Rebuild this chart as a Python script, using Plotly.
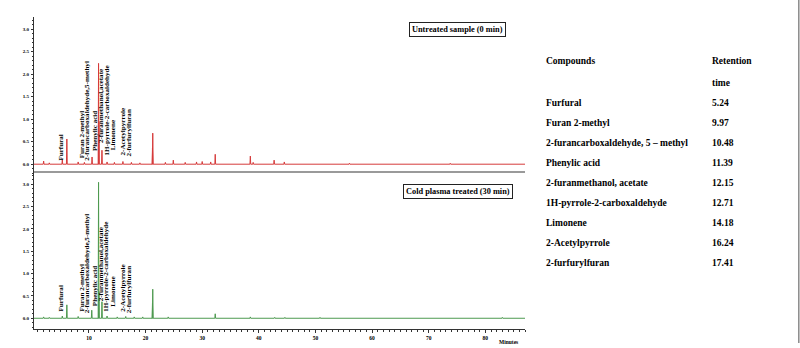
import plotly.graph_objects as go

W, H = 800, 348

# ---------------- data ----------------
compounds = ["Furfural", "Furan 2-methyl", "2-furancarboxaldehyde, 5 \u2013 methyl",
             "Phenylic acid", "2-furanmethanol, acetate", "1H-pyrrole-2-carboxaldehyde",
             "Limonene", "2-Acetylpyrrole", "2-furfurylfuran"]
retention_times = ["5.24", "9.97", "10.48", "11.39", "12.15", "12.71", "14.18", "16.24", "17.41"]

peak_labels = ["Furfural", "Furan 2-methyl", "2-furancarboxaldehyde,5-methyl", "Phenylic acid",
               "2-furanmethanol,acetate", "1H-pyrrole-2-carboxaldehyde", "Limonene",
               "2-Acetylpyrrole", "2-furfurylfuran"]

# untreated (0 min) chromatogram peaks: retention time (min), response
untreated_times = [2.0, 3.0, 5.3, 6.1, 8.1, 9.2, 10.55, 11.7, 11.76, 12.3, 13.2, 14.5, 16.0,
                   17.5, 19.0, 21.22, 21.27, 23.5, 24.9, 27.0, 29.0, 30.0, 31.5, 32.3, 38.5,
                   39.0, 42.7, 44.5, 56.0, 73.8]
untreated_values = [0.07, 0.03, 0.10, 0.56, 0.05, 0.04, 0.16, 2.24, 0.95, 0.31, 0.05, 0.04,
                    0.06, 0.04, 0.03, 0.36, 0.69, 0.04, 0.09, 0.04, 0.05, 0.06, 0.05, 0.22,
                    0.18, 0.04, 0.09, 0.05, 0.02, 0.02]

# cold plasma treated (30 min) chromatogram peaks
treated_times = [2.0, 3.0, 5.3, 6.1, 8.1, 10.5, 11.7, 11.76, 12.3, 13.2, 15.0, 16.5, 18.0,
                 19.5, 21.22, 21.27, 24.0, 32.3, 38.5, 42.8, 44.6, 50.8, 83.0]
treated_values = [0.03, 0.02, 0.05, 0.30, 0.04, 0.18, 3.04, 0.60, 0.37, 0.05, 0.03, 0.04,
                  0.03, 0.03, 0.33, 0.65, 0.03, 0.10, 0.03, 0.02, 0.02, 0.02, 0.02]

y_ticks = [0.0, 0.5, 1.0, 1.5, 2.0, 2.5, 3.0]
x_ticks = [10, 20, 30, 40, 50, 60, 70, 80]

# label placement (x in minutes, bottom of text in response units) - layout only
label_x = [5.1, 8.8, 9.7, 11.2, 12.1, 13.1, 14.3, 16.1, 17.0]
label_bottom_top = [0.04, 0.09, 0.04, 0.24, 0.42, 0.16, 0.27, 0.16, 0.13]
label_bottom_bot = [0.11, 0.11, 0.07, 0.22, 0.33, 0.11, 0.22, 0.11, 0.07]

T_START, T_END = 0.3, 87.0
HALF_W = 0.07


def spikes(times, values):
    xs, ys = [T_START], [0.0]
    for t, v in sorted(zip(times, values)):
        xs += [t - HALF_W, t, t + HALF_W]
        ys += [0.0, v, 0.0]
    xs.append(T_END)
    ys.append(0.0)
    return xs, ys


def px_x(p):
    return p / W


def px_y(p):
    return 1 - p / H


fig = go.Figure()
ux, uy = spikes(untreated_times, untreated_values)
tx, ty = spikes(treated_times, treated_values)
fig.add_trace(go.Scatter(x=ux, y=uy, mode="lines", line=dict(color="#d63a3a", width=1),
                         xaxis="x", yaxis="y", showlegend=False, hoverinfo="skip"))
fig.add_trace(go.Scatter(x=tx, y=ty, mode="lines", line=dict(color="#4e9a50", width=1),
                         xaxis="x2", yaxis="y2", showlegend=False, hoverinfo="skip"))

SERIF = "Liberation Serif"
xdom = [px_x(34), px_x(525)]
xrange_ = [T_START, T_END]

tickfont = dict(family=SERIF, size=5, color="black")
yaxis_common = dict(
    range=[-0.24, 3.27], tickvals=y_ticks, ticktext=[f"<b>{v:.1f}</b>" for v in y_ticks],
    tickfont=tickfont, showline=True, linecolor="#333", linewidth=1, ticks="outside",
    ticklen=2, tickcolor="#333", showgrid=False, zeroline=False, ticklabelstandoff=1,
    minor=dict(dtick=0.1, ticklen=1.5, ticks="outside", tickcolor="#333"),
)
fig.update_layout(
    width=W, height=H, margin=dict(l=0, r=0, t=0, b=0),
    plot_bgcolor="white", paper_bgcolor="white",
    xaxis=dict(domain=xdom, range=xrange_, showline=False, showticklabels=False,
               showgrid=False, zeroline=False, anchor="y"),
    yaxis=dict(domain=[px_y(175), px_y(17)], anchor="x", **yaxis_common),
    xaxis2=dict(domain=xdom, range=xrange_, tickvals=x_ticks,
                ticktext=[f"<b>{v}</b>" for v in x_ticks], tickfont=dict(family=SERIF, size=5.5, color="black"),
                showline=True, linecolor="#333", linewidth=1, ticks="outside", ticklen=3,
                tickcolor="#333", showgrid=False, zeroline=False, anchor="y2",
                minor=dict(dtick=1, ticklen=1.5, ticks="outside", tickcolor="#333")),
    yaxis2=dict(domain=[px_y(329), px_y(172)], anchor="x2", **yaxis_common),
)

annotations = []
for i, lab in enumerate(peak_labels):
    for ax, bottoms in (("", label_bottom_top), ("2", label_bottom_bot)):
        annotations.append(dict(
            x=label_x[i], y=bottoms[i], xref="x" + ax, yref="y" + ax, text=f"<b>{lab}</b>",
            textangle=-90, xanchor="center", yanchor="bottom", showarrow=False,
            font=dict(family=SERIF, size=7.1, color="black")))


def paper_text(xp, yp, text, size, xanchor="center", **kw):
    return dict(x=px_x(xp), y=px_y(yp), xref="paper", yref="paper", text=text,
                xanchor=xanchor, yanchor="middle", showarrow=False,
                font=dict(family=SERIF, size=size, color="black"), **kw)


# sample boxes
annotations.append(paper_text(457.5, 29.5, "<b>Untreated sample (0 min)</b>", 8.3,
                              bordercolor="#222", borderwidth=1, borderpad=2, bgcolor="white"))
annotations.append(paper_text(458, 191, "<b>Cold plasma treated (30 min)</b>", 8.3,
                              bordercolor="#222", borderwidth=1, borderpad=2, bgcolor="white"))
annotations.append(paper_text(508, 342, "<b>Minutes</b>", 5.5))

# compounds table
TS = 9.5
annotations.append(paper_text(544, 61, "<b>Compounds</b>", TS, "left"))
annotations.append(paper_text(710, 61, "<b>Retention</b>", TS, "left"))
annotations.append(paper_text(710, 83, "<b>time</b>", TS, "left"))
for i, (c, rt) in enumerate(zip(compounds, retention_times)):
    yy = 103 + 20 * i
    annotations.append(paper_text(544, yy, f"<b>{c}</b>", TS, "left"))
    annotations.append(paper_text(710, yy, f"<b>{rt}</b>", TS, "left"))
fig.update_layout(annotations=annotations)

# panel separator and right border
fig.add_shape(type="line", xref="paper", yref="paper", x0=px_x(34), x1=px_x(525),
              y0=px_y(172), y1=px_y(172), line=dict(color="#9a9a9a", width=2))
fig.add_shape(type="line", xref="paper", yref="paper", x0=px_x(798.8), x1=px_x(798.8),
              y0=px_y(0), y1=px_y(343), line=dict(color="#8a8a8a", width=1.5))

fig.write_html("out.html", config={"displayModeBar": False},
               post_script="document.body.style.margin='0px';")
